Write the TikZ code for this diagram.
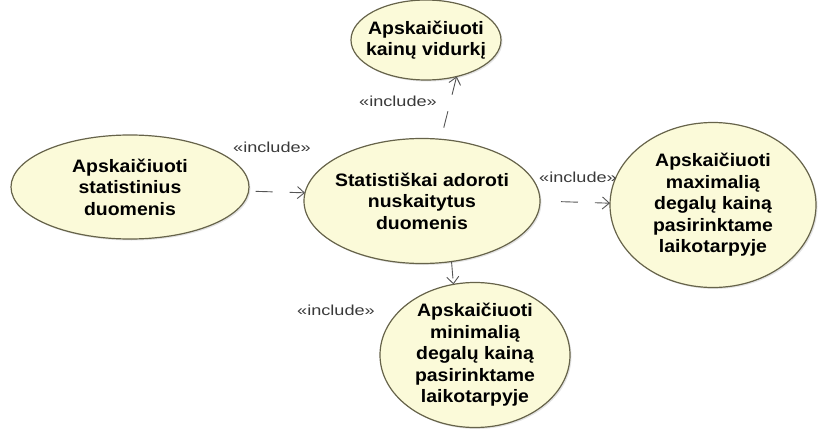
\documentclass[tikz,border=0pt]{standalone}
\usepackage{fontspec}
\setmainfont{Liberation Sans}[FakeStretch=1.08]
\newfontfamily\stereofont{Liberation Sans}[FakeStretch=1.25]
\usetikzlibrary{shapes.geometric,arrows.meta,shadows}

\definecolor{ucfill}{HTML}{FBFAD9}
\definecolor{ucline}{HTML}{66634A}
\definecolor{deplink}{HTML}{555555}
\definecolor{stereo}{HTML}{3A3A3A}

\tikzset{
  usecase/.style={ellipse, draw=ucline, line width=1.2pt, fill=ucfill,
    inner sep=0pt, outer sep=0pt,
    drop shadow={opacity=0.22, shadow xshift=1.5pt, shadow yshift=-1.5pt},
    label={[uctext]center:#1}},
  uctext/.style={align=center, inner sep=0pt,
    font=\fontsize{18}{21.5}\selectfont\bfseries},
  incl/.style={draw=deplink, line width=0.9pt,
    dash pattern=on 17pt off 17pt,
    -{Straight Barb[length=7pt,width=12pt,line width=0.9pt]}},
  stereotype/.style={text=stereo, inner sep=0pt,
    font=\stereofont\fontsize{14.5}{17}\selectfont},
}

\begin{document}
\begin{tikzpicture}[x=1pt,y=-1pt]
  \useasboundingbox (0,0) rectangle (819,436);

  % use cases (fixed-size ellipses, text set as a centred label)
  \node[usecase={Apskaičiuoti\\kainų vidurkį},
        minimum width=150pt, minimum height=80pt] (avg) at (426,40) {};
  \node[usecase={Apskaičiuoti\\statistinius\\duomenis},
        minimum width=238pt, minimum height=104pt] (stat) at (130,187) {};
  \node[usecase={Statistiškai adoroti\\nuskaitytus\\duomenis},
        minimum width=236pt, minimum height=125pt] (main) at (422,201) {};
  \node[usecase={Apskaičiuoti\\maximalią\\degalų kainą\\pasirinktame\\laikotarpyje},
        minimum width=206pt, minimum height=165pt] (max) at (713,205) {};
  \node[usecase={Apskaičiuoti\\minimalią\\degalų kainą\\pasirinktame\\laikotarpyje},
        minimum width=190pt, minimum height=145pt] (min) at (475,355) {};

  % include dependencies
  \draw[incl, dash phase=27pt] (stat.-2.9) -- (main.176.1);
  \draw[incl, dash phase=27pt, shorten <=14pt] (main.east) -- (max.179);
  \draw[incl, dash phase=22pt] (main.73) -- (avg.-50.7);
  \draw[incl] (main.-64.4) -- (min.107.3);

  % stereotype labels
  \node[stereotype] (lblavg) at (398,101) {«include»};
  \node[stereotype] (lblstat) at (272,147) {«include»};
  \node[stereotype] (lblmax) at (578,177) {«include»};
  \node[stereotype] (lblmin) at (336,310) {«include»};
\end{tikzpicture}
\end{document}
